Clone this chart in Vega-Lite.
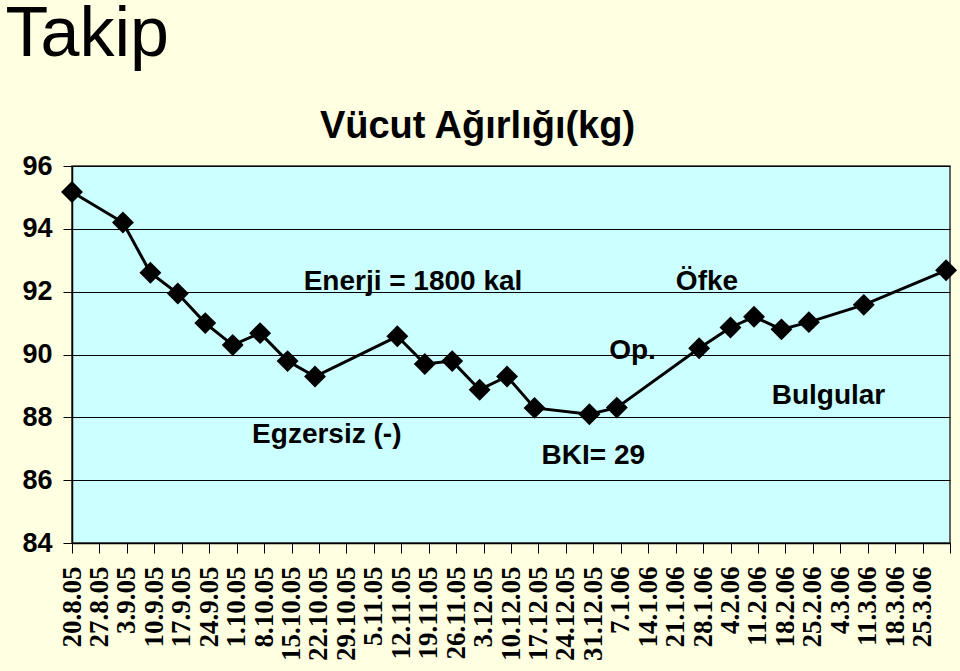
{
  "$schema": "https://vega.github.io/schema/vega-lite/v6.json",
  "autosize": {"type": "none"},
  "width": 878,
  "height": 377,
  "padding": {"left": 72, "top": 166, "right": 10, "bottom": 128},
  "background": "#FFFFE1",
  "config": {
    "view": {"fill": "#CCFFFF", "stroke": "#333333", "strokeWidth": 1.5},
    "font": "Liberation Sans"
  },
  "datasets": {
    "weights": [
      {"date": "2005-08-20", "kg": 95.17},
      {"date": "2005-09-02", "kg": 94.2},
      {"date": "2005-09-09", "kg": 92.6},
      {"date": "2005-09-16", "kg": 91.94},
      {"date": "2005-09-23", "kg": 91.0},
      {"date": "2005-09-30", "kg": 90.3},
      {"date": "2005-10-07", "kg": 90.68},
      {"date": "2005-10-14", "kg": 89.79},
      {"date": "2005-10-21", "kg": 89.3},
      {"date": "2005-11-11", "kg": 90.58},
      {"date": "2005-11-18", "kg": 89.7},
      {"date": "2005-11-25", "kg": 89.79},
      {"date": "2005-12-02", "kg": 88.88},
      {"date": "2005-12-09", "kg": 89.3},
      {"date": "2005-12-16", "kg": 88.3},
      {"date": "2005-12-30", "kg": 88.1},
      {"date": "2006-01-06", "kg": 88.31},
      {"date": "2006-01-27", "kg": 90.2},
      {"date": "2006-02-04", "kg": 90.86},
      {"date": "2006-02-10", "kg": 91.2},
      {"date": "2006-02-17", "kg": 90.8},
      {"date": "2006-02-24", "kg": 91.03},
      {"date": "2006-03-10", "kg": 91.58},
      {"date": "2006-03-31", "kg": 92.68}
    ],
    "notes": [
      {"date": "2005-11-15", "kg": 92.04, "label": "Enerji = 1800 kal"},
      {"date": "2006-01-29", "kg": 92.04, "label": "Öfke"},
      {"date": "2006-01-10", "kg": 89.87, "label": "Op."},
      {"date": "2005-10-24", "kg": 87.18, "label": "Egzersiz (-)"},
      {"date": "2005-12-31", "kg": 86.52, "label": "BKI= 29"},
      {"date": "2006-03-01", "kg": 88.41, "label": "Bulgular"}
    ]
  },
  "layer": [
    {
      "data": {"name": "weights"},
      "mark": {"type": "line", "color": "#000000", "strokeWidth": 3},
      "encoding": {
        "x": {
          "field": "date",
          "type": "temporal",
          "scale": {
            "type": "utc",
            "domain": [
              {"year": 2005, "month": 8, "date": 20, "utc": true},
              {"year": 2006, "month": 4, "date": 1, "utc": true}
            ]
          },
          "axis": {
            "values": [
              {"year": 2005, "month": 8, "date": 20, "utc": true},
              {"year": 2005, "month": 8, "date": 27, "utc": true},
              {"year": 2005, "month": 9, "date": 3, "utc": true},
              {"year": 2005, "month": 9, "date": 10, "utc": true},
              {"year": 2005, "month": 9, "date": 17, "utc": true},
              {"year": 2005, "month": 9, "date": 24, "utc": true},
              {"year": 2005, "month": 10, "date": 1, "utc": true},
              {"year": 2005, "month": 10, "date": 8, "utc": true},
              {"year": 2005, "month": 10, "date": 15, "utc": true},
              {"year": 2005, "month": 10, "date": 22, "utc": true},
              {"year": 2005, "month": 10, "date": 29, "utc": true},
              {"year": 2005, "month": 11, "date": 5, "utc": true},
              {"year": 2005, "month": 11, "date": 12, "utc": true},
              {"year": 2005, "month": 11, "date": 19, "utc": true},
              {"year": 2005, "month": 11, "date": 26, "utc": true},
              {"year": 2005, "month": 12, "date": 3, "utc": true},
              {"year": 2005, "month": 12, "date": 10, "utc": true},
              {"year": 2005, "month": 12, "date": 17, "utc": true},
              {"year": 2005, "month": 12, "date": 24, "utc": true},
              {"year": 2005, "month": 12, "date": 31, "utc": true},
              {"year": 2006, "month": 1, "date": 7, "utc": true},
              {"year": 2006, "month": 1, "date": 14, "utc": true},
              {"year": 2006, "month": 1, "date": 21, "utc": true},
              {"year": 2006, "month": 1, "date": 28, "utc": true},
              {"year": 2006, "month": 2, "date": 4, "utc": true},
              {"year": 2006, "month": 2, "date": 11, "utc": true},
              {"year": 2006, "month": 2, "date": 18, "utc": true},
              {"year": 2006, "month": 2, "date": 25, "utc": true},
              {"year": 2006, "month": 3, "date": 4, "utc": true},
              {"year": 2006, "month": 3, "date": 11, "utc": true},
              {"year": 2006, "month": 3, "date": 18, "utc": true},
              {"year": 2006, "month": 3, "date": 25, "utc": true},
              {"year": 2006, "month": 4, "date": 1, "utc": true}
            ],
            "tickCount": 60,
            "format": "%-d.%-m.%y",
            "labelExpr": "datum.index < 0.999 ? datum.label : ''",
            "labelAngle": -90,
            "labelFont": "Liberation Serif",
            "labelFontWeight": "bold",
            "labelFontSize": 27,
            "labelColor": "#000000",
            "labelPadding": 13,
            "labelOverlap": false,
            "labelBound": false,
            "labelFlush": false,
            "tickSize": 10,
            "tickColor": "#000000",
            "domainColor": "#000000",
            "domainWidth": 1.5,
            "grid": false,
            "title": "Vücut Ağırlığı(kg)",
            "titleAngle": 0,
            "titleX": 405,
            "titleY": -406,
            "titleAlign": "center",
            "titleBaseline": "alphabetic",
            "titleFont": "Liberation Sans",
            "titleFontSize": 38,
            "titleFontWeight": "bold",
            "titleColor": "#000000"
          }
        },
        "y": {
          "field": "kg",
          "type": "quantitative",
          "scale": {"domain": [84, 96], "nice": false, "zero": false},
          "axis": {
            "values": [84, 86, 88, 90, 92, 94, 96],
            "labelFont": "Liberation Sans",
            "labelFontWeight": "bold",
            "labelFontSize": 27,
            "labelColor": "#000000",
            "labelPadding": 11,
            "tickSize": 9,
            "tickColor": "#000000",
            "domainColor": "#000000",
            "domainWidth": 1.5,
            "grid": true,
            "gridColor": "#000000",
            "gridWidth": 1,
            "gridOpacity": 1,
            "title": "Takip",
            "titleAngle": 0,
            "titleX": -67,
            "titleY": -111,
            "titleAlign": "left",
            "titleBaseline": "alphabetic",
            "titleFont": "Liberation Sans",
            "titleFontSize": 70,
            "titleFontWeight": "normal",
            "titleColor": "#000000"
          }
        }
      }
    },
    {
      "data": {"name": "weights"},
      "mark": {"type": "point", "shape": "diamond", "filled": true, "size": 480, "color": "#000000", "opacity": 1},
      "encoding": {
        "x": {"field": "date", "type": "temporal"},
        "y": {"field": "kg", "type": "quantitative"}
      }
    },
    {
      "data": {"name": "notes"},
      "mark": {"type": "text", "font": "Liberation Sans", "fontWeight": "bold", "fontSize": 28, "align": "center", "baseline": "alphabetic", "color": "#000000"},
      "encoding": {
        "x": {"field": "date", "type": "temporal"},
        "y": {"field": "kg", "type": "quantitative"},
        "text": {"field": "label"}
      }
    }
  ]
}
